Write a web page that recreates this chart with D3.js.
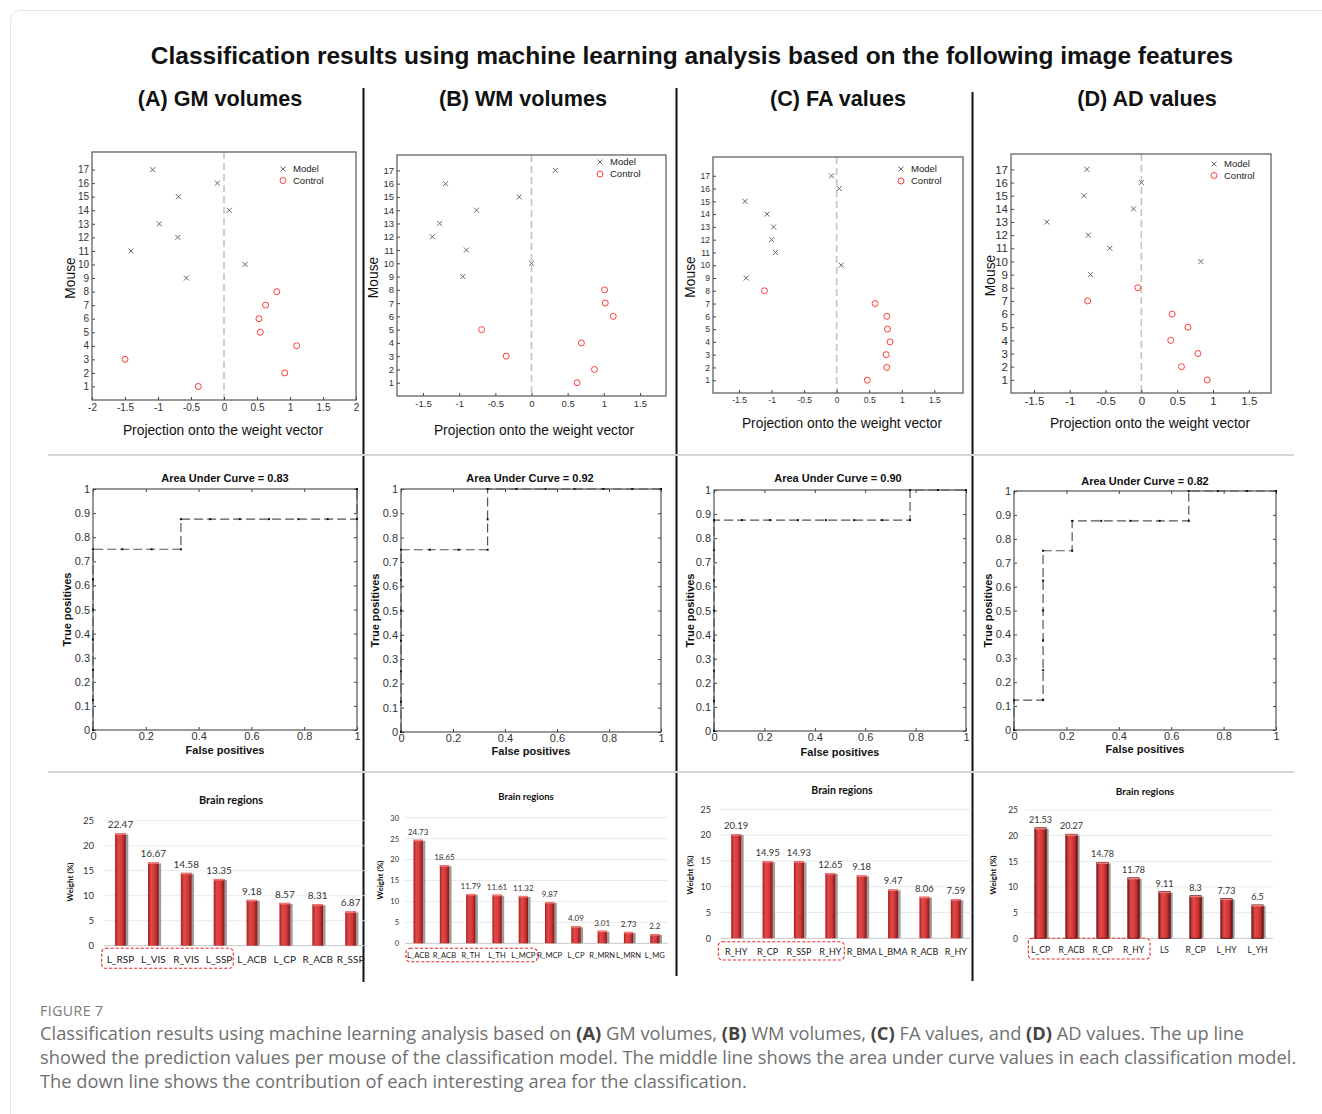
<!DOCTYPE html>
<html>
<head>
<meta charset="utf-8">
<script src="https://cdn.jsdelivr.net/npm/d3@7"></script>
<style>
  body { margin: 0; background: #fff; }
</style>
</head>
<body>
<div id="fig"></div>
<script>
// mice on the y axis of the projection plots
var mouseModel = [17, 16, 15, 14, 13, 12, 11, 10, 9];
var mouseControl = [8, 7, 6, 5, 4, 3, 2, 1];
var mouseTicks = [1, 2, 3, 4, 5, 6, 7, 8, 9, 10, 11, 12, 13, 14, 15, 16, 17];

// projection onto the weight vector
var projModelA = [-1.08, -0.10, -0.69, 0.08, -0.98, -0.70, -1.41, 0.32, -0.57];
var projControlA = [0.80, 0.63, 0.53, 0.55, 1.10, -1.50, 0.92, -0.39];
var projModelB = [0.33, -1.19, -0.17, -0.76, -1.27, -1.37, -0.90, 0.00, -0.95];
var projControlB = [1.01, 1.02, 1.13, -0.69, 0.69, -0.35, 0.87, 0.63];
var projModelC = [-0.08, 0.04, -1.41, -1.07, -0.97, -1.00, -0.94, 0.07, -1.39];
var projControlC = [-1.11, 0.59, 0.77, 0.78, 0.82, 0.76, 0.77, 0.47];
var projModelD = [-0.76, 0.00, -0.80, -0.11, -1.32, -0.74, -0.44, 0.83, -0.71];
var projControlD = [-0.05, -0.75, 0.43, 0.65, 0.41, 0.79, 0.56, 0.92];

var projTicksA = [-2, -1.5, -1, -0.5, 0, 0.5, 1, 1.5, 2];
var projTicks = [-1.5, -1, -0.5, 0, 0.5, 1, 1.5];

// ROC curves (middle row)
var rocFprA = [0, 0, 0, 0, 0, 0, 0, 0.111, 0.222, 0.333, 0.333, 0.444, 0.556, 0.667, 0.778, 0.889, 1, 1];
var rocTprA = [0, 0.125, 0.25, 0.375, 0.5, 0.625, 0.75, 0.75, 0.75, 0.75, 0.875, 0.875, 0.875, 0.875, 0.875, 0.875, 0.875, 1];
var rocFprB = [0, 0, 0, 0, 0, 0, 0, 0.111, 0.222, 0.333, 0.333, 0.333, 0.444, 0.556, 0.667, 0.778, 0.889, 1];
var rocTprB = [0, 0.125, 0.25, 0.375, 0.5, 0.625, 0.75, 0.75, 0.75, 0.75, 0.875, 1, 1, 1, 1, 1, 1, 1];
var rocFprC = [0, 0, 0, 0, 0, 0, 0, 0, 0.111, 0.222, 0.333, 0.444, 0.556, 0.667, 0.778, 0.778, 0.889, 1];
var rocTprC = [0, 0.125, 0.25, 0.375, 0.5, 0.625, 0.75, 0.875, 0.875, 0.875, 0.875, 0.875, 0.875, 0.875, 0.875, 1, 1, 1];
var rocFprD = [0, 0, 0.111, 0.111, 0.111, 0.111, 0.111, 0.111, 0.222, 0.222, 0.333, 0.444, 0.556, 0.667, 0.667, 0.778, 0.889, 1];
var rocTprD = [0, 0.125, 0.125, 0.25, 0.375, 0.5, 0.625, 0.75, 0.75, 0.875, 0.875, 0.875, 0.875, 0.875, 1, 1, 1, 1];
var aucLabels = ["0.83", "0.92", "0.90", "0.82"];
var rocYTicks = [0, 0.1, 0.2, 0.3, 0.4, 0.5, 0.6, 0.7, 0.8, 0.9, 1];
var rocXTicks = [0, 0.2, 0.4, 0.6, 0.8, 1];

// region weights (bottom row)
var regionsA = ["L_RSP", "L_VIS", "R_VIS", "L_SSP", "L_ACB", "L_CP", "R_ACB", "R_SSP"];
var weightsA = [22.47, 16.67, 14.58, 13.35, 9.18, 8.57, 8.31, 6.87];
var regionsB = ["L_ACB", "R_ACB", "R_TH", "L_TH", "L_MCP", "R_MCP", "L_CP", "R_MRN", "L_MRN", "L_MG"];
var weightsB = [24.73, 18.65, 11.79, 11.61, 11.32, 9.87, 4.09, 3.01, 2.73, 2.2];
var regionsC = ["R_HY", "R_CP", "R_SSP", "R_HY", "R_BMA", "L_BMA", "R_ACB", "R_HY"];
var weightsC = [20.19, 14.95, 14.93, 12.65, 12.2, 9.47, 8.06, 7.59];
var labelsC = ["20.19", "14.95", "14.93", "12.65", "9.18", "9.47", "8.06", "7.59"];  // printed label differs from bar for R_BMA
var regionsD = ["L_CP", "R_ACB", "R_CP", "R_HY", "LS", "R_CP", "L_HY", "L_YH"];
var weightsD = [21.53, 20.27, 14.78, 11.78, 9.11, 8.3, 7.73, 6.5];
var weightTicks25 = [0, 5, 10, 15, 20, 25];
var weightTicks30 = [0, 5, 10, 15, 20, 25, 30];

var headers = ["(A) GM volumes", "(B) WM volumes", "(C) FA values", "(D) AD values"];

var W = 1322, H = 1114;
var ARIAL = "'Liberation Sans', Arial, sans-serif";
var LATO = "Lato, 'Open Sans', sans-serif";

var svg = d3.select("#fig").append("svg")
    .attr("width", W).attr("height", H)
    .style("display", "block");

svg.append("rect").attr("width", W).attr("height", H).attr("fill", "#fff");

// page frame
svg.append("rect")
    .attr("x", 10.5).attr("y", 10.5)
    .attr("width", 1340).attr("height", 1140).attr("rx", 10)
    .attr("fill", "none").attr("stroke", "#e3e3e3");

var defs = svg.append("defs");
var grad = defs.append("linearGradient").attr("id", "barGrad")
    .attr("x1", "0%").attr("x2", "100%").attr("y1", "0%").attr("y2", "0%");
grad.append("stop").attr("offset", "0%").attr("stop-color", "#a81c1c");
grad.append("stop").attr("offset", "30%").attr("stop-color", "#e04a48");
grad.append("stop").attr("offset", "65%").attr("stop-color", "#d13a38");
grad.append("stop").attr("offset", "100%").attr("stop-color", "#8c1414");

// main title + column headers
svg.append("text")
    .attr("x", 692).attr("y", 64)
    .attr("text-anchor", "middle")
    .style("font-family", ARIAL).style("font-weight", "bold").style("font-size", "24.5px")
    .attr("fill", "#111")
    .text("Classification results using machine learning analysis based on the following image features");

var headerX = [220, 523, 838, 1147];
svg.selectAll(null).data(headers).enter().append("text")
    .attr("x", (d, i) => headerX[i]).attr("y", 106)
    .attr("text-anchor", "middle")
    .style("font-family", ARIAL).style("font-weight", "bold").style("font-size", "21.6px")
    .attr("fill", "#111")
    .text(d => d);

// separators
[[363.5, 88, 982], [676.5, 88, 976], [972.5, 92, 981]].forEach(function (s) {
  svg.append("line").attr("x1", s[0]).attr("x2", s[0]).attr("y1", s[1]).attr("y2", s[2])
      .attr("stroke", "#111").attr("stroke-width", 2);
});
[455, 772].forEach(function (yy) {
  svg.append("line").attr("x1", 48).attr("x2", 1294).attr("y1", yy).attr("y2", yy)
      .attr("stroke", "#d6d6d6").attr("stroke-width", 2);
});

function styleAxis(g, size, font) {
  g.select(".domain").remove();
  g.selectAll(".tick line").attr("stroke", "#444");
  g.selectAll(".tick text").style("font-family", font).style("font-size", size + "px").attr("fill", "#333");
}

// ---------- projection scatter ----------
function drawScatter(L, modelX, controlX, xTicks) {
  var x = d3.scaleLinear().domain(L.xDom).range([L.x0, L.x1]);
  var y = d3.scaleLinear().domain(L.yDom).range([L.y1, L.y0]);
  var g = svg.append("g");

  g.append("line")
      .attr("x1", x(0)).attr("x2", x(0)).attr("y1", L.y0).attr("y2", L.y1)
      .attr("stroke", "#c4c4c4").attr("stroke-width", 1.6).attr("stroke-dasharray", "7,4");

  g.append("g").attr("transform", `translate(0,${L.y1})`)
      .call(d3.axisBottom(x).tickValues(xTicks).tickFormat(d => String(d)).tickSizeInner(-3).tickSizeOuter(0).tickPadding(4))
      .call(a => styleAxis(a, L.fs, ARIAL));
  g.append("g").attr("transform", `translate(${L.x0},0)`)
      .call(d3.axisLeft(y).tickValues(mouseTicks).tickFormat(d => String(d)).tickSizeInner(-3).tickSizeOuter(0).tickPadding(3))
      .call(a => styleAxis(a, L.fs, ARIAL));

  g.append("rect")
      .attr("x", L.x0).attr("y", L.y0).attr("width", L.x1 - L.x0).attr("height", L.y1 - L.y0)
      .attr("fill", "none").attr("stroke", "#555").attr("stroke-width", 1.2);

  var cross = "M-2.5,-2.5L2.5,2.5M-2.5,2.5L2.5,-2.5";
  g.selectAll(null).data(modelX).enter().append("path")
      .attr("d", cross)
      .attr("transform", (d, i) => `translate(${x(d)},${y(mouseModel[i])})`)
      .attr("stroke", "#666").attr("stroke-width", 1).attr("fill", "none");
  g.selectAll(null).data(controlX).enter().append("circle")
      .attr("cx", d => x(d)).attr("cy", (d, i) => y(mouseControl[i]))
      .attr("r", 3).attr("fill", "none").attr("stroke", "#ff3b3b").attr("stroke-width", 1);

  // legend
  g.append("path").attr("d", cross).attr("transform", `translate(${L.lx},${L.ly})`)
      .attr("stroke", "#666").attr("fill", "none");
  g.append("circle").attr("cx", L.lx).attr("cy", L.ly + L.lgap).attr("r", 3)
      .attr("fill", "none").attr("stroke", "#ff3b3b");
  g.selectAll(null).data(["Model", "Control"]).enter().append("text")
      .attr("x", L.lx + 10).attr("y", (d, i) => L.ly + i * L.lgap).attr("dy", "0.35em")
      .style("font-family", ARIAL).style("font-size", L.lfs + "px").attr("fill", "#222")
      .text(d => d);

  g.append("text")
      .attr("transform", `translate(${L.mx},${(L.y0 + L.y1) / 2 + 2}) rotate(-90)`)
      .attr("text-anchor", "middle").attr("dy", "0.35em")
      .style("font-family", ARIAL).style("font-size", L.afs + "px").attr("fill", "#111")
      .text("Mouse");
  g.append("text")
      .attr("x", L.xlx).attr("y", L.xly).attr("dy", "0.35em").attr("text-anchor", "middle")
      .style("font-family", ARIAL).style("font-size", L.afs + "px").attr("fill", "#111")
      .text("Projection onto the weight vector");
}

drawScatter({x0: 92, x1: 356, y0: 152, y1: 400, xDom: [-2, 2], yDom: [0, 18.3], fs: 10,
  lx: 283, ly: 169, lgap: 11.5, lfs: 9.5, mx: 70, xlx: 223, xly: 430, afs: 13.8}, projModelA, projControlA, projTicksA);
drawScatter({x0: 397, x1: 666, y0: 155, y1: 396, xDom: [-1.86, 1.86], yDom: [0, 18.16], fs: 9.5,
  lx: 600, ly: 162, lgap: 12, lfs: 9.5, mx: 373, xlx: 534, xly: 430, afs: 13.8}, projModelB, projControlB, projTicks);
drawScatter({x0: 713, x1: 963, y0: 157, y1: 393, xDom: [-1.9, 1.94], yDom: [0, 18.47], fs: 8.5,
  lx: 901, ly: 169, lgap: 12, lfs: 9.5, mx: 690, xlx: 842, xly: 423, afs: 13.8}, projModelC, projControlC, projTicks);
drawScatter({x0: 1011, x1: 1271, y0: 154, y1: 393, xDom: [-1.82, 1.81], yDom: [0, 18.17], fs: 11.5,
  lx: 1214, ly: 164, lgap: 11.5, lfs: 9.5, mx: 990, xlx: 1150, xly: 423, afs: 13.8}, projModelD, projControlD, projTicks);

// ---------- ROC ----------
function drawRoc(L, fpr, tpr, auc) {
  var x = d3.scaleLinear().domain([0, 1]).range([L.x0, L.x1]);
  var y = d3.scaleLinear().domain([0, 1]).range([L.y1, L.y0]);
  var g = svg.append("g");

  g.append("g").attr("transform", `translate(0,${L.y1})`)
      .call(d3.axisBottom(x).tickValues(rocXTicks).tickFormat(d => String(d)).tickSizeInner(-3).tickSizeOuter(0).tickPadding(2))
      .call(a => styleAxis(a, 11, ARIAL));
  g.append("g").attr("transform", `translate(0,${L.y0})`)
      .call(d3.axisTop(x).tickValues(rocXTicks).tickFormat("").tickSizeInner(-3).tickSizeOuter(0))
      .call(a => styleAxis(a, 11, ARIAL));
  g.append("g").attr("transform", `translate(${L.x0},0)`)
      .call(d3.axisLeft(y).tickValues(rocYTicks).tickFormat(d => String(d)).tickSizeInner(-3).tickSizeOuter(0).tickPadding(3))
      .call(a => styleAxis(a, 11, ARIAL));
  g.append("g").attr("transform", `translate(${L.x1},0)`)
      .call(d3.axisRight(y).tickValues(rocYTicks).tickFormat("").tickSizeInner(-3).tickSizeOuter(0))
      .call(a => styleAxis(a, 11, ARIAL));

  g.append("rect")
      .attr("x", L.x0).attr("y", L.y0).attr("width", L.x1 - L.x0).attr("height", L.y1 - L.y0)
      .attr("fill", "none").attr("stroke", "#444").attr("stroke-width", 1.1);

  var pts = fpr.map((f, i) => [f, tpr[i]]);
  var line = d3.line().x(d => x(d[0])).y(d => y(d[1]));
  g.append("path").datum(pts).attr("d", line)
      .attr("fill", "none").attr("stroke", "#555").attr("stroke-width", 1.2).attr("stroke-dasharray", "9,4");
  g.selectAll(null).data(pts).enter().append("rect")
      .attr("x", d => x(d[0]) - 1).attr("y", d => y(d[1]) - 1)
      .attr("width", 2).attr("height", 2).attr("fill", "#111");

  g.append("text")
      .attr("x", L.tx).attr("y", L.ty).attr("dy", "0.35em").attr("text-anchor", "middle")
      .style("font-family", ARIAL).style("font-weight", "bold").style("font-size", "11px").attr("fill", "#111")
      .text("Area Under Curve = " + auc);
  g.append("text")
      .attr("x", (L.x0 + L.x1) / 2).attr("y", L.xly).attr("dy", "0.35em").attr("text-anchor", "middle")
      .style("font-family", ARIAL).style("font-weight", "bold").style("font-size", "11px").attr("fill", "#111")
      .text("False positives");
  g.append("text")
      .attr("transform", `translate(${L.ylx},${(L.y0 + L.y1) / 2}) rotate(-90)`)
      .attr("dy", "0.35em").attr("text-anchor", "middle")
      .style("font-family", ARIAL).style("font-weight", "bold").style("font-size", "11px").attr("fill", "#111")
      .text("True positives");
}

drawRoc({x0: 93, x1: 357, y0: 489, y1: 730, tx: 225, ty: 478, xly: 750, ylx: 67}, rocFprA, rocTprA, aucLabels[0]);
drawRoc({x0: 401, x1: 661, y0: 489, y1: 732, tx: 530, ty: 478, xly: 751, ylx: 375}, rocFprB, rocTprB, aucLabels[1]);
drawRoc({x0: 714, x1: 966, y0: 490, y1: 731, tx: 838, ty: 478, xly: 752, ylx: 690}, rocFprC, rocTprC, aucLabels[2]);
drawRoc({x0: 1014, x1: 1276, y0: 491, y1: 730, tx: 1145, ty: 481, xly: 749, ylx: 988}, rocFprD, rocTprD, aucLabels[3]);

// ---------- weight bars ----------
function drawBars(L, regions, weights, labels, ticks) {
  var x = d3.scaleBand().domain(d3.range(regions.length)).range([L.x0, L.x1]);
  var y = d3.scaleLinear().domain([0, ticks[ticks.length - 1]]).range([L.yb, L.yt]);
  var bw = L.bw;
  var g = svg.append("g");

  g.selectAll(null).data(ticks.slice(1)).enter().append("line")
      .attr("x1", L.x0).attr("x2", L.x1).attr("y1", d => y(d)).attr("y2", d => y(d))
      .attr("stroke", "#e4e4e4").attr("stroke-width", 0.8);
  g.append("line").attr("x1", L.x0).attr("x2", L.x1).attr("y1", y(0)).attr("y2", y(0))
      .attr("stroke", "#c8c8c8").attr("stroke-width", 1);

  g.append("g").attr("transform", `translate(${L.tickX},0)`)
      .call(d3.axisLeft(y).tickValues(ticks).tickFormat(d => String(d)).tickSize(0).tickPadding(0))
      .call(a => styleAxis(a, L.tfs, LATO));

  var cx = i => x(i) + x.bandwidth() / 2;
  // shadow
  g.selectAll(null).data(weights).enter().append("rect")
      .attr("x", (d, i) => cx(i) - bw / 2 + 2.5).attr("y", d => y(d) + 1)
      .attr("width", bw).attr("height", d => y(0) - y(d) - 1)
      .attr("fill", "#9c9c9c");
  g.selectAll(null).data(weights).enter().append("rect")
      .attr("x", (d, i) => cx(i) - bw / 2).attr("y", d => y(d))
      .attr("width", bw).attr("height", d => y(0) - y(d))
      .attr("fill", "url(#barGrad)")
      .attr("stroke", L.dark ? "#3a0a0a" : "none").attr("stroke-width", 0.8);
  g.selectAll(null).data(weights).enter().append("rect")
      .attr("x", (d, i) => cx(i) - bw / 2).attr("y", d => y(d))
      .attr("width", bw).attr("height", 1.6)
      .attr("fill", "#f07a78");

  g.selectAll(null).data(weights).enter().append("text")
      .attr("x", (d, i) => cx(i)).attr("y", d => y(d) - 5)
      .attr("text-anchor", "middle")
      .style("font-family", LATO).style("font-size", L.vfs + "px").attr("fill", "#333")
      .text((d, i) => labels[i]);

  g.selectAll(null).data(regions).enter().append("text")
      .attr("x", (d, i) => cx(i)).attr("y", L.catY).attr("dy", "0.35em")
      .attr("text-anchor", "middle")
      .style("font-family", LATO).style("font-size", L.cfs + "px").attr("fill", "#222")
      .text(d => d);

  g.append("rect")
      .attr("x", L.box[0]).attr("y", L.box[1]).attr("width", L.box[2] - L.box[0]).attr("height", L.box[3] - L.box[1])
      .attr("rx", 4).attr("fill", "none").attr("stroke", "#e82626").attr("stroke-width", 1.1)
      .attr("stroke-dasharray", "3,2");

  g.append("text")
      .attr("x", L.tx).attr("y", L.ty).attr("dy", "0.35em").attr("text-anchor", "middle")
      .style("font-family", LATO).style("font-weight", "bold").style("font-size", L.titfs + "px").attr("fill", "#111")
      .text("Brain regions");
  g.append("text")
      .attr("transform", `translate(${L.wx},${L.wy}) rotate(-90)`)
      .attr("dy", "0.35em").attr("text-anchor", "middle")
      .style("font-family", LATO).style("font-weight", "bold").style("font-size", "8px").attr("fill", "#111")
      .text("Weight  (%)");
}

drawBars({x0: 104, x1: 367, yt: 820.7, yb: 945.7, bw: 10.7, tickX: 94, tfs: 9.5, vfs: 10, cfs: 10,
  catY: 959, box: [101.7, 948.3, 233.3, 968.3], tx: 231, ty: 800, titfs: 11, wx: 70, wy: 882},
  regionsA, weightsA, weightsA.map(String), weightTicks25);
drawBars({x0: 405, x1: 668, yt: 817.7, yb: 943.3, bw: 9.3, tickX: 399, tfs: 7.5, vfs: 8, cfs: 7.6,
  catY: 955, box: [406, 948.3, 537.3, 961.7], tx: 526, ty: 797, titfs: 9.5, wx: 380, wy: 880},
  regionsB, weightsB, weightsB.map(String), weightTicks30);
drawBars({x0: 720.5, x1: 971.5, yt: 809.3, yb: 938.3, bw: 10, tickX: 711, tfs: 9, vfs: 9.5, cfs: 9,
  catY: 952, box: [718.3, 941.7, 844.3, 960], tx: 842, ty: 790, titfs: 10.5, wx: 690, wy: 875},
  regionsC, weightsC, labelsC, weightTicks25);
drawBars({x0: 1025, x1: 1273, yt: 810, yb: 938.3, bw: 11.3, tickX: 1018, tfs: 8.5, vfs: 9, cfs: 8.5,
  catY: 950, box: [1028.3, 938.3, 1150, 959], tx: 1145, ty: 791, titfs: 10, wx: 993, wy: 875, dark: true},
  regionsD, weightsD, weightsD.map(String), weightTicks25);

// ---------- caption ----------
var CAP = "'Open Sans', 'Noto Sans', sans-serif";
svg.append("text")
    .attr("x", 40).attr("y", 1016)
    .style("font-family", CAP).style("font-size", "14px").style("letter-spacing", "0.5px")
    .attr("fill", "#777")
    .text("FIGURE 7");

var capLines = [
  [["Classification results using machine learning analysis based on ", 0], ["(A)", 1], [" GM volumes, ", 0], ["(B)", 1],
   [" WM volumes, ", 0], ["(C)", 1], [" FA values, and ", 0], ["(D)", 1], [" AD values. The up line", 0]],
  [["showed the prediction values per mouse of the classification model. The middle line shows the area under curve values in each classification model.", 0]],
  [["The down line shows the contribution of each interesting area for the classification.", 0]]
];
capLines.forEach(function (parts, li) {
  var t = svg.append("text")
      .attr("x", 40).attr("y", 1040 + li * 24)
      .style("font-family", CAP).style("font-size", "18.3px").attr("fill", "#707070");
  parts.forEach(function (p) {
    t.append("tspan")
        .style("font-weight", p[1] ? "bold" : "normal")
        .attr("fill", p[1] ? "#444" : "#707070")
        .text(p[0]);
  });
});
</script>
</body>
</html>
